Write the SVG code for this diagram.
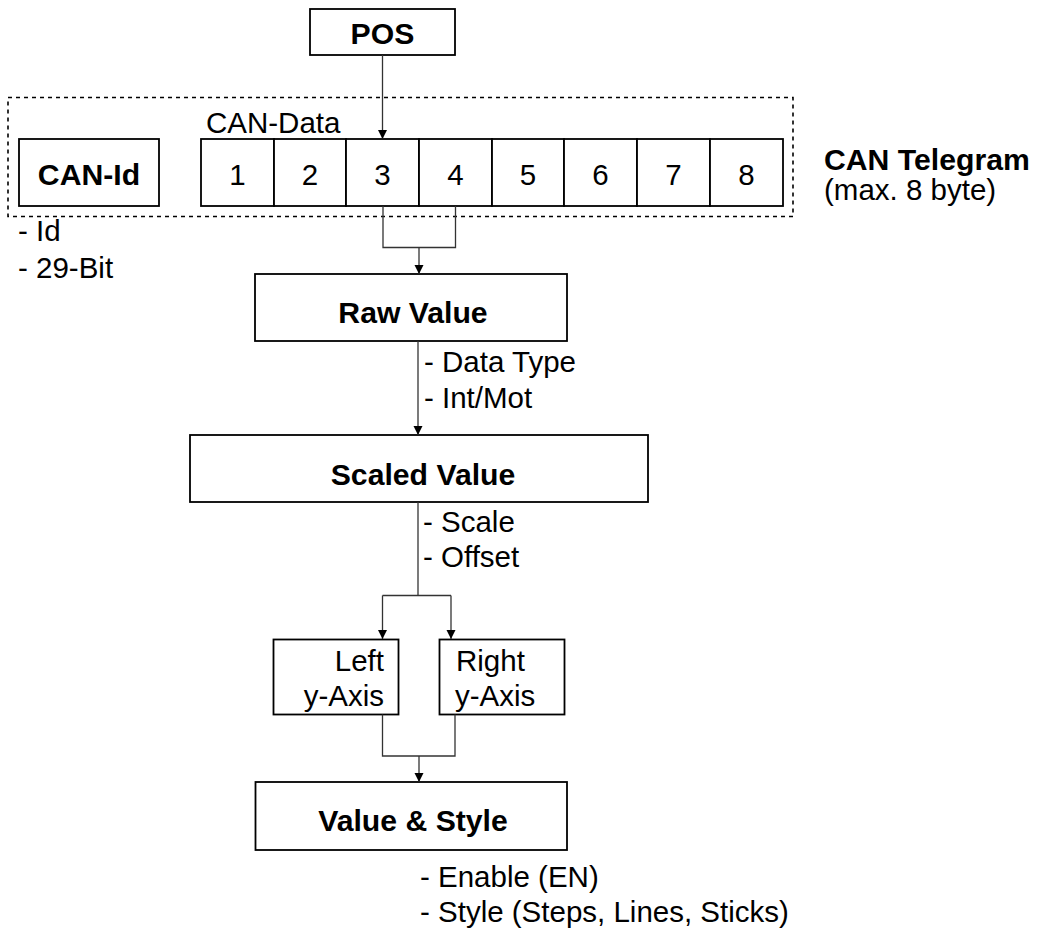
<svg xmlns="http://www.w3.org/2000/svg" width="1039" height="930" viewBox="0 0 1039 930">
<defs>
<marker id="arr" markerWidth="9" markerHeight="10" refX="9" refY="4.5" orient="auto" markerUnits="userSpaceOnUse">
<path d="M0,0 L9,4.5 L0,9 Z" fill="#000"/>
</marker>
<style>
.box{fill:#fff;stroke:#000;stroke-width:1.8}
.dash{fill:none;stroke:#000;stroke-width:1.6;stroke-dasharray:4 4}
.con{fill:none;stroke:#333;stroke-width:1.3}
.t{font-family:"Liberation Sans",Arial,sans-serif;font-size:29.5px;fill:#000}
.b{font-weight:bold;font-size:30.2px}
.m{text-anchor:middle}
.e{text-anchor:end}
</style>
</defs>
<rect width="1039" height="930" fill="#fff"/>

<g id="telegram">
<rect class="dash" x="8" y="97.5" width="785" height="119"/>
<text class="t b" x="824" y="170">CAN Telegram</text>
<text class="t" x="824" y="200">(max. 8 byte)</text>
</g>

<g id="pos">
<rect class="box" x="310" y="9" width="145" height="46"/>
<text class="t b m" x="382.5" y="44">POS</text>
</g>

<g id="can-id">
<rect class="box" x="19" y="139" width="140" height="67"/>
<text class="t b m" x="89" y="185">CAN-Id</text>
<text class="t" x="18" y="241">- Id</text>
<text class="t" x="18" y="278">- 29-Bit</text>
</g>

<g id="can-data">
<text class="t" x="206" y="133">CAN-Data</text>
<rect class="box" x="201" y="139" width="73" height="67"/>
<rect class="box" x="274" y="139" width="72" height="67"/>
<rect class="box" x="346" y="139" width="73" height="67"/>
<rect class="box" x="419" y="139" width="73" height="67"/>
<rect class="box" x="492" y="139" width="72" height="67"/>
<rect class="box" x="564" y="139" width="73" height="67"/>
<rect class="box" x="637" y="139" width="73" height="67"/>
<rect class="box" x="710" y="139" width="73" height="67"/>
<text class="t m" x="237.5" y="185">1</text>
<text class="t m" x="310" y="185">2</text>
<text class="t m" x="382.5" y="185">3</text>
<text class="t m" x="455.5" y="185">4</text>
<text class="t m" x="528" y="185">5</text>
<text class="t m" x="600.5" y="185">6</text>
<text class="t m" x="673.5" y="185">7</text>
<text class="t m" x="746.5" y="185">8</text>
</g>

<g id="raw-value">
<rect class="box" x="255" y="274" width="312" height="67"/>
<text class="t b m" x="413" y="323">Raw Value</text>
</g>

<g id="scaled-value">
<rect class="box" x="190" y="435" width="458" height="67"/>
<text class="t b m" x="423" y="485">Scaled Value</text>
</g>

<g id="left-axis">
<rect class="box" x="273.5" y="639.5" width="125" height="75"/>
<text class="t e" x="384" y="671">Left</text>
<text class="t e" x="384" y="706">y-Axis</text>
</g>

<g id="right-axis">
<rect class="box" x="439.5" y="639.5" width="125" height="75"/>
<text class="t" x="456" y="671">Right</text>
<text class="t" x="455" y="706">y-Axis</text>
</g>

<g id="value-style">
<rect class="box" x="255.5" y="782" width="311.5" height="68"/>
<text class="t b m" x="413" y="831">Value &amp; Style</text>
</g>

<g id="connectors">
<path class="con" d="M382.5,55 V139" marker-end="url(#arr)"/>
<path class="con" d="M383,206 V247.5 H455.5 V206"/>
<path class="con" d="M419,247.5 V274" marker-end="url(#arr)"/>
<path class="con" d="M418,341 V435" marker-end="url(#arr)"/>
<path class="con" d="M418,502 V595.5"/>
<path class="con" d="M382.5,595.5 H451 M382.5,595.5 V639" marker-end="url(#arr)"/>
<path class="con" d="M451,595.5 V639" marker-end="url(#arr)"/>
<path class="con" d="M382.5,714.5 V756 H455 V714.5"/>
<path class="con" d="M419,756 V782" marker-end="url(#arr)"/>
</g>

<g id="labels">
<text class="t" x="424" y="372">- Data Type</text>
<text class="t" x="424" y="408">- Int/Mot</text>
<text class="t" x="423" y="532">- Scale</text>
<text class="t" x="423" y="567">- Offset</text>
<text class="t" x="420" y="887">- Enable (EN)</text>
<text class="t" x="420" y="922">- Style (Steps, Lines, Sticks)</text>
</g>
</svg>
